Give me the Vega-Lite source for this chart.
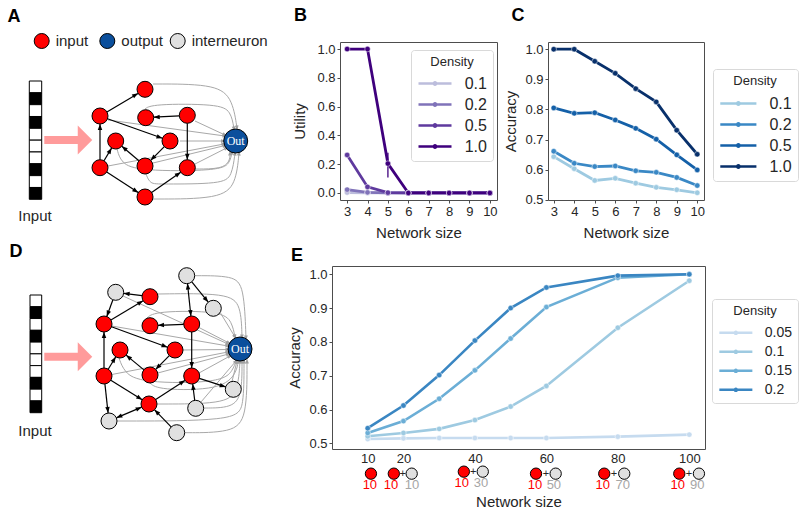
{
"$schema": "https://vega.github.io/schema/vega-lite/v6.json",
"padding": {"left": 0, "top": 6, "right": 0, "bottom": 0},
"background": "white",
"config": {
 "font": "Liberation Sans",
 "view": {"stroke": null},
 "axis": {"labelFontSize": 13, "labelColor": "#262626", "titleFontSize": 15, "titleFontWeight": "normal", "titleColor": "#262626", "domain": false, "tickColor": "#4d4d4d", "tickSize": 3, "grid": false, "labelPadding": 2, "labelOverlap": false, "labelFlush": false, "labelBound": false}
},
"datasets": {
 "a_bar": [
  {"x0":29.3,"x1":41.7,"y0":80,"y1":91.83,"cell":"0"},
  {"x0":29.3,"x1":41.7,"y0":91.83,"y1":103.66,"cell":"1"},
  {"x0":29.3,"x1":41.7,"y0":103.66,"y1":115.49,"cell":"0"},
  {"x0":29.3,"x1":41.7,"y0":115.49,"y1":127.32,"cell":"1"},
  {"x0":29.3,"x1":41.7,"y0":127.32,"y1":139.15,"cell":"0"},
  {"x0":29.3,"x1":41.7,"y0":139.15,"y1":150.98,"cell":"0"},
  {"x0":29.3,"x1":41.7,"y0":150.98,"y1":162.81,"cell":"0"},
  {"x0":29.3,"x1":41.7,"y0":162.81,"y1":174.64,"cell":"1"},
  {"x0":29.3,"x1":41.7,"y0":174.64,"y1":186.47,"cell":"0"},
  {"x0":29.3,"x1":41.7,"y0":186.47,"y1":198.3,"cell":"1"}
 ],
 "a_nodes": [
  {"x":145,"y":88.3,"type":"input"},{"x":100,"y":115,"type":"input"},{"x":145.7,"y":116.7,"type":"input"},
  {"x":187.3,"y":114.3,"type":"input"},{"x":115.7,"y":140,"type":"input"},{"x":170,"y":140,"type":"input"},
  {"x":100,"y":166.7,"type":"input"},{"x":145,"y":165,"type":"input"},{"x":187.3,"y":166.7,"type":"input"},
  {"x":145,"y":196,"type":"input"}
 ],
 "a_out": [{"x":235.7,"y":140,"type":"output","label":"Out"}],
 "a_black": [
  {"x":106.9,"y":110.9,"x2":138.1,"y2":92.4},
  {"x":100,"y":158.7,"x2":100,"y2":123},
  {"x":104.0,"y":159.8,"x2":111.7,"y2":146.9},
  {"x":106.7,"y":171.1,"x2":138.3,"y2":191.6},
  {"x":151.6,"y":191.4,"x2":180.7,"y2":171.3},
  {"x":179.3,"y":114.8,"x2":153.7,"y2":116.2},
  {"x":187.3,"y":122.3,"x2":187.3,"y2":158.7},
  {"x":107.5,"y":117.7,"x2":162.5,"y2":137.3},
  {"x":164.3,"y":145.7,"x2":150.7,"y2":159.3},
  {"x":138.9,"y":159.8,"x2":121.8,"y2":145.2}
 ],
 "a_heads": [
  {"x":135.5,"y":93.9,"angle":59.3},{"x":100,"y":126,"angle":0},{"x":110.1,"y":149.5,"angle":30.4},
  {"x":135.8,"y":190.0,"angle":123.1},{"x":178.3,"y":173.0,"angle":55.3},{"x":156.7,"y":116.1,"angle":-93.3},
  {"x":187.3,"y":155.7,"angle":180},{"x":159.6,"y":136.3,"angle":109.6},{"x":152.8,"y":157.2,"angle":-135},
  {"x":124.1,"y":147.1,"angle":-49.5}
 ],
 "a_gray": [
  {"e":1,"i":0,"x":153,"y":83},{"e":1,"i":1,"x":212,"y":83},{"e":1,"i":2,"x":232,"y":95},{"e":1,"i":3,"x":237,"y":127},
  {"e":2,"i":0,"x":145,"y":108},{"e":2,"i":1,"x":152,"y":103},{"e":2,"i":2,"x":218,"y":103},{"e":2,"i":3,"x":231,"y":110},{"e":2,"i":4,"x":234,"y":128},
  {"e":3,"i":0,"x":108,"y":119},{"e":3,"i":1,"x":225,"y":135},
  {"e":4,"i":0,"x":195,"y":120},{"e":4,"i":1,"x":225,"y":134},
  {"e":5,"i":0,"x":180,"y":140},{"e":5,"i":1,"x":223.5,"y":140},
  {"e":6,"i":0,"x":108,"y":165},{"e":6,"i":1,"x":224,"y":143},
  {"e":7,"i":0,"x":153,"y":162},{"e":7,"i":1,"x":225,"y":144.5},
  {"e":8,"i":0,"x":195,"y":163},{"e":8,"i":1,"x":226.5,"y":147},
  {"e":9,"i":0,"x":117,"y":148},{"e":9,"i":1,"x":121,"y":162},{"e":9,"i":2,"x":138,"y":170},{"e":9,"i":3,"x":220,"y":170},{"e":9,"i":4,"x":230,"y":162},{"e":9,"i":5,"x":232,"y":151},
  {"e":10,"i":0,"x":146,"y":173},{"e":10,"i":1,"x":150,"y":183},{"e":10,"i":2,"x":160,"y":183},{"e":10,"i":3,"x":222,"y":183},{"e":10,"i":4,"x":232,"y":175},{"e":10,"i":5,"x":235,"y":152},
  {"e":11,"i":0,"x":195,"y":168},{"e":11,"i":1,"x":222,"y":168},{"e":11,"i":2,"x":230,"y":160},{"e":11,"i":3,"x":230,"y":152},
  {"e":12,"i":0,"x":153,"y":198},{"e":12,"i":1,"x":220,"y":198},{"e":12,"i":2,"x":236,"y":183},{"e":12,"i":3,"x":239,"y":152}
 ],
 "a_gheads": [
  {"x":237,"y":127,"angle":171},{"x":234,"y":128,"angle":170},{"x":225,"y":135,"angle":98},{"x":225,"y":134,"angle":115},
  {"x":223.5,"y":140,"angle":90},{"x":224,"y":143,"angle":79},{"x":225,"y":144.5,"angle":76},{"x":226.5,"y":147,"angle":63},
  {"x":232,"y":151,"angle":10},{"x":235,"y":152,"angle":7},{"x":230,"y":152,"angle":0},{"x":239,"y":152,"angle":5}
 ],
 "a_key": [
  {"x":41.7,"y":40,"type":"input","label":"input"},
  {"x":107.3,"y":40,"type":"output","label":"output"},
  {"x":177.7,"y":40,"type":"interneuron","label":"interneuron"}
 ],
 "d_bar": [
  {"x0":30,"x1":41.7,"y0":295,"y1":306.77,"cell":"0"},
  {"x0":30,"x1":41.7,"y0":306.77,"y1":318.54,"cell":"1"},
  {"x0":30,"x1":41.7,"y0":318.54,"y1":330.31,"cell":"0"},
  {"x0":30,"x1":41.7,"y0":330.31,"y1":342.08,"cell":"1"},
  {"x0":30,"x1":41.7,"y0":342.08,"y1":353.85,"cell":"0"},
  {"x0":30,"x1":41.7,"y0":353.85,"y1":365.62,"cell":"0"},
  {"x0":30,"x1":41.7,"y0":365.62,"y1":377.39,"cell":"0"},
  {"x0":30,"x1":41.7,"y0":377.39,"y1":389.16,"cell":"1"},
  {"x0":30,"x1":41.7,"y0":389.16,"y1":400.93,"cell":"0"},
  {"x0":30,"x1":41.7,"y0":400.93,"y1":412.7,"cell":"1"}
 ],
 "d_nodes": [
  {"x":150,"y":296.7,"type":"input"},{"x":104,"y":324,"type":"input"},{"x":150,"y":325.7,"type":"input"},
  {"x":191.7,"y":324,"type":"input"},{"x":120,"y":350,"type":"input"},{"x":175,"y":350,"type":"input"},
  {"x":104,"y":376,"type":"input"},{"x":150,"y":375,"type":"input"},{"x":191.7,"y":376,"type":"input"},
  {"x":149,"y":404,"type":"input"},
  {"x":186.7,"y":275.7,"type":"interneuron"},{"x":115.7,"y":292.3,"type":"interneuron"},{"x":213.3,"y":308.3,"type":"interneuron"},
  {"x":233.3,"y":389.3,"type":"interneuron"},{"x":195.7,"y":408.3,"type":"interneuron"},{"x":109,"y":421,"type":"interneuron"},
  {"x":176.7,"y":432.7,"type":"interneuron"}
 ],
 "d_out": [{"x":240,"y":349,"type":"output","label":"Out"}],
 "d_black": [
  {"x":142.1,"y":295.7,"x2":123.6,"y2":293.3},
  {"x":112.9,"y":299.8,"x2":106.8,"y2":316.5},
  {"x":110.9,"y":319.9,"x2":143.1,"y2":300.8},
  {"x":187.5,"y":283.6,"x2":190.9,"y2":316.0},
  {"x":191.8,"y":281.9,"x2":208.2,"y2":302.1},
  {"x":183.7,"y":324.3,"x2":158.0,"y2":325.4},
  {"x":191.7,"y":332,"x2":191.7,"y2":368},
  {"x":111.5,"y":326.8,"x2":167.5,"y2":347.2},
  {"x":104,"y":368,"x2":104,"y2":332},
  {"x":108.2,"y":369.2,"x2":115.8,"y2":356.8},
  {"x":169.3,"y":355.7,"x2":155.7,"y2":369.3},
  {"x":143.9,"y":369.9,"x2":126.1,"y2":355.1},
  {"x":104.9,"y":383.9,"x2":108.1,"y2":413.1},
  {"x":110.8,"y":380.2,"x2":142.2,"y2":399.8},
  {"x":116.4,"y":417.9,"x2":141.6,"y2":407.1},
  {"x":155.7,"y":399.6,"x2":185.0,"y2":380.4},
  {"x":171.1,"y":426.9,"x2":154.6,"y2":409.8},
  {"x":194.7,"y":400.3,"x2":192.7,"y2":384.0},
  {"x":199.3,"y":378.4,"x2":225.7,"y2":386.9}
 ],
 "d_heads": [
  {"x":126.6,"y":293.7,"angle":-82.7},{"x":107.8,"y":313.7,"angle":-159.8},{"x":140.5,"y":302.3,"angle":59.3},
  {"x":190.6,"y":313.1,"angle":174.1},{"x":187.8,"y":286.6,"angle":-5.9},{"x":206.3,"y":299.8,"angle":140.8},
  {"x":161.0,"y":325.2,"angle":-92.4},{"x":191.7,"y":365,"angle":180},{"x":164.7,"y":346.2,"angle":110.1},
  {"x":104,"y":335,"angle":0},{"x":114.2,"y":359.4,"angle":31.6},{"x":157.8,"y":367.2,"angle":-135},
  {"x":128.4,"y":357.0,"angle":-50.2},{"x":107.8,"y":410.1,"angle":173.7},{"x":139.7,"y":398.2,"angle":121.9},
  {"x":138.9,"y":408.3,"angle":67.0},{"x":119.1,"y":416.7,"angle":-113.0},{"x":182.5,"y":382.0,"angle":56.8},
  {"x":156.6,"y":411.9,"angle":-44.0},{"x":193.1,"y":386.9,"angle":-7.1},{"x":222.8,"y":386.0,"angle":107.7}
 ],
 "d_gray": [
  {"e":1,"i":0,"x":195,"y":275.7},{"e":1,"i":1,"x":233,"y":275.7},{"e":1,"i":2,"x":244,"y":286},{"e":1,"i":3,"x":246,"y":338},
  {"e":2,"i":0,"x":158,"y":294},{"e":2,"i":1,"x":228,"y":293},{"e":2,"i":2,"x":241,"y":305},{"e":2,"i":3,"x":242,"y":337},
  {"e":3,"i":0,"x":220.5,"y":313},{"e":3,"i":1,"x":235,"y":337},
  {"e":4,"i":0,"x":147,"y":318},{"e":4,"i":1,"x":155,"y":311},{"e":4,"i":2,"x":222,"y":311},{"e":4,"i":3,"x":232,"y":322},{"e":4,"i":4,"x":235,"y":337},
  {"e":5,"i":0,"x":199,"y":327.5},{"e":5,"i":1,"x":229,"y":343},
  {"e":6,"i":0,"x":111.8,"y":326},{"e":6,"i":1,"x":228,"y":346},
  {"e":7,"i":0,"x":123,"y":296},{"e":7,"i":1,"x":228,"y":344},
  {"e":8,"i":0,"x":183,"y":350},{"e":8,"i":1,"x":228,"y":349.5},
  {"e":9,"i":0,"x":111.8,"y":374.5},{"e":9,"i":1,"x":228,"y":352},
  {"e":10,"i":0,"x":157.8,"y":373},{"e":10,"i":1,"x":228.5,"y":354},
  {"e":11,"i":0,"x":199,"y":373},{"e":11,"i":1,"x":230,"y":356},
  {"e":12,"i":0,"x":119,"y":358},{"e":12,"i":1,"x":124,"y":372},{"e":12,"i":2,"x":140,"y":383},{"e":12,"i":3,"x":222,"y":383},{"e":12,"i":4,"x":233,"y":370},{"e":12,"i":5,"x":236,"y":361},
  {"e":13,"i":0,"x":150,"y":383},{"e":13,"i":1,"x":158,"y":390},{"e":13,"i":2,"x":222,"y":390},{"e":13,"i":3,"x":237,"y":372},{"e":13,"i":4,"x":238,"y":361},
  {"e":14,"i":0,"x":232,"y":381.5},{"e":14,"i":1,"x":237,"y":361},
  {"e":15,"i":0,"x":201,"y":402},{"e":15,"i":1,"x":236,"y":361},
  {"e":16,"i":0,"x":203.5,"y":408},{"e":16,"i":1,"x":232,"y":408},{"e":16,"i":2,"x":242,"y":395},{"e":16,"i":3,"x":242,"y":361},
  {"e":17,"i":0,"x":157,"y":404},{"e":17,"i":1,"x":224,"y":404},{"e":17,"i":2,"x":238,"y":392},{"e":17,"i":3,"x":240,"y":361},
  {"e":18,"i":0,"x":117,"y":421},{"e":18,"i":1,"x":235,"y":421},{"e":18,"i":2,"x":244,"y":407},{"e":18,"i":3,"x":244,"y":361},
  {"e":19,"i":0,"x":184.5,"y":432.7},{"e":19,"i":1,"x":232,"y":432.7},{"e":19,"i":2,"x":247,"y":418},{"e":19,"i":3,"x":247,"y":361}
 ],
 "d_gheads": [
  {"x":246,"y":338,"angle":178},{"x":242,"y":337,"angle":178},{"x":235,"y":337,"angle":149},{"x":235,"y":337,"angle":169},
  {"x":229,"y":343,"angle":117},{"x":228,"y":346,"angle":100},{"x":228,"y":344,"angle":115},{"x":228,"y":349.5,"angle":90},
  {"x":228,"y":352,"angle":79},{"x":228.5,"y":354,"angle":75},{"x":230,"y":356,"angle":61},{"x":236,"y":361,"angle":18},
  {"x":238,"y":361,"angle":5},{"x":237,"y":361,"angle":14},{"x":236,"y":361,"angle":40},{"x":242,"y":361,"angle":0},
  {"x":240,"y":361,"angle":4},{"x":244,"y":361,"angle":0},{"x":247,"y":361,"angle":0}
 ],
 "utility": [
  {"size":3,"density":"0.1","utility":0.003},{"size":4,"density":"0.1","utility":0.0},{"size":5,"density":"0.1","utility":0.0},{"size":6,"density":"0.1","utility":0.0},{"size":7,"density":"0.1","utility":0.0},{"size":8,"density":"0.1","utility":0.0},{"size":9,"density":"0.1","utility":0.0},{"size":10,"density":"0.1","utility":0.0},
  {"size":3,"density":"0.2","utility":0.023},{"size":4,"density":"0.2","utility":0.004},{"size":5,"density":"0.2","utility":0.0},{"size":6,"density":"0.2","utility":0.0},{"size":7,"density":"0.2","utility":0.0},{"size":8,"density":"0.2","utility":0.0},{"size":9,"density":"0.2","utility":0.0},{"size":10,"density":"0.2","utility":0.0},
  {"size":3,"density":"0.5","utility":0.264},{"size":4,"density":"0.5","utility":0.042},{"size":5,"density":"0.5","utility":0.002},{"size":6,"density":"0.5","utility":0.0},{"size":7,"density":"0.5","utility":0.0},{"size":8,"density":"0.5","utility":0.0},{"size":9,"density":"0.5","utility":0.0},{"size":10,"density":"0.5","utility":0.0},
  {"size":3,"density":"1.0","utility":1.0},{"size":4,"density":"1.0","utility":1.0},{"size":5,"density":"1.0","utility":0.204},{"size":6,"density":"1.0","utility":0.0},{"size":7,"density":"1.0","utility":0.0},{"size":8,"density":"1.0","utility":0.0},{"size":9,"density":"1.0","utility":0.0},{"size":10,"density":"1.0","utility":0.0}
 ],
 "accuracy_small": [
  {"size":3,"density":"0.1","accuracy":0.643},{"size":4,"density":"0.1","accuracy":0.603},{"size":5,"density":"0.1","accuracy":0.564},{"size":6,"density":"0.1","accuracy":0.571},{"size":7,"density":"0.1","accuracy":0.555},{"size":8,"density":"0.1","accuracy":0.541},{"size":9,"density":"0.1","accuracy":0.533},{"size":10,"density":"0.1","accuracy":0.523},
  {"size":3,"density":"0.2","accuracy":0.661},{"size":4,"density":"0.2","accuracy":0.621},{"size":5,"density":"0.2","accuracy":0.610},{"size":6,"density":"0.2","accuracy":0.612},{"size":7,"density":"0.2","accuracy":0.596},{"size":8,"density":"0.2","accuracy":0.591},{"size":9,"density":"0.2","accuracy":0.574},{"size":10,"density":"0.2","accuracy":0.547},
  {"size":3,"density":"0.5","accuracy":0.805},{"size":4,"density":"0.5","accuracy":0.787},{"size":5,"density":"0.5","accuracy":0.789},{"size":6,"density":"0.5","accuracy":0.765},{"size":7,"density":"0.5","accuracy":0.737},{"size":8,"density":"0.5","accuracy":0.701},{"size":9,"density":"0.5","accuracy":0.649},{"size":10,"density":"0.5","accuracy":0.599},
  {"size":3,"density":"1.0","accuracy":1.0},{"size":4,"density":"1.0","accuracy":1.0},{"size":5,"density":"1.0","accuracy":0.960},{"size":6,"density":"1.0","accuracy":0.920},{"size":7,"density":"1.0","accuracy":0.869},{"size":8,"density":"1.0","accuracy":0.825},{"size":9,"density":"1.0","accuracy":0.731},{"size":10,"density":"1.0","accuracy":0.651}
 ],
 "accuracy_large": [
  {"size":10,"density":"0.05","accuracy":0.513},{"size":20,"density":"0.05","accuracy":0.515},{"size":30,"density":"0.05","accuracy":0.516},{"size":40,"density":"0.05","accuracy":0.516},{"size":50,"density":"0.05","accuracy":0.516},{"size":60,"density":"0.05","accuracy":0.516},{"size":80,"density":"0.05","accuracy":0.520},{"size":100,"density":"0.05","accuracy":0.526},
  {"size":10,"density":"0.1","accuracy":0.521},{"size":20,"density":"0.1","accuracy":0.531},{"size":30,"density":"0.1","accuracy":0.543},{"size":40,"density":"0.1","accuracy":0.569},{"size":50,"density":"0.1","accuracy":0.609},{"size":60,"density":"0.1","accuracy":0.670},{"size":80,"density":"0.1","accuracy":0.842},{"size":100,"density":"0.1","accuracy":0.981},
  {"size":10,"density":"0.15","accuracy":0.531},{"size":20,"density":"0.15","accuracy":0.566},{"size":30,"density":"0.15","accuracy":0.632},{"size":40,"density":"0.15","accuracy":0.716},{"size":50,"density":"0.15","accuracy":0.810},{"size":60,"density":"0.15","accuracy":0.903},{"size":80,"density":"0.15","accuracy":0.990},{"size":100,"density":"0.15","accuracy":1.0},
  {"size":10,"density":"0.2","accuracy":0.545},{"size":20,"density":"0.2","accuracy":0.612},{"size":30,"density":"0.2","accuracy":0.702},{"size":40,"density":"0.2","accuracy":0.804},{"size":50,"density":"0.2","accuracy":0.900},{"size":60,"density":"0.2","accuracy":0.961},{"size":80,"density":"0.2","accuracy":0.996},{"size":100,"density":"0.2","accuracy":1.0}
 ],
 "e_icons": [
  {"size":10.9,"accuracy":0.4106,"kind":"input"},
  {"size":17.3,"accuracy":0.4106,"kind":"input"},{"size":22.3,"accuracy":0.4106,"kind":"inter"},
  {"size":36.9,"accuracy":0.4165,"kind":"input"},{"size":42.2,"accuracy":0.4165,"kind":"inter"},
  {"size":57.1,"accuracy":0.4106,"kind":"input"},{"size":62.6,"accuracy":0.4106,"kind":"inter"},
  {"size":76.2,"accuracy":0.4106,"kind":"input"},{"size":81.8,"accuracy":0.4106,"kind":"inter"},
  {"size":97.2,"accuracy":0.4106,"kind":"input"},{"size":102.7,"accuracy":0.4106,"kind":"inter"}
 ],
 "e_plus": [
  {"size":19.8,"accuracy":0.4106,"t":"+"},{"size":39.5,"accuracy":0.4165,"t":"+"},{"size":59.9,"accuracy":0.4106,"t":"+"},
  {"size":78.9,"accuracy":0.4106,"t":"+"},{"size":99.9,"accuracy":0.4106,"t":"+"}
 ],
 "e_counts": [
  {"size":10.6,"accuracy":0.3772,"t":"10","kind":"n_input"},
  {"size":16.5,"accuracy":0.3772,"t":"10","kind":"n_input"},{"size":22.4,"accuracy":0.3772,"t":"10","kind":"n_inter"},
  {"size":36.3,"accuracy":0.3831,"t":"10","kind":"n_input"},{"size":41.7,"accuracy":0.3831,"t":"30","kind":"n_inter"},
  {"size":56.8,"accuracy":0.3772,"t":"10","kind":"n_input"},{"size":62.1,"accuracy":0.3772,"t":"50","kind":"n_inter"},
  {"size":75.8,"accuracy":0.3772,"t":"10","kind":"n_input"},{"size":81.4,"accuracy":0.3772,"t":"70","kind":"n_inter"},
  {"size":96.8,"accuracy":0.3772,"t":"10","kind":"n_input"},{"size":102.2,"accuracy":0.3772,"t":"90","kind":"n_inter"}
 ]
},
"spacing": 1,
"bounds": "full",
"resolve": {"scale": {"color": "independent", "fill": "independent"}},
"vconcat": [
 {
  "spacing": 51,
  "bounds": "flush",
  "resolve": {"scale": {"color": "independent", "fill": "independent"}},
  "hconcat": [
   {
    "width": 289, "height": 158,
    "layer": [
     {"data": {"name": "a_bar"}, "mark": {"type": "rect", "stroke": "black", "strokeWidth": 1},
      "encoding": {
       "x": {"field": "x0", "type": "quantitative", "scale": {"domain": [0, 289], "nice": false, "zero": false}, "axis": null},
       "x2": {"field": "x1"},
       "y": {"field": "y0", "type": "quantitative", "scale": {"domain": [41, 199], "nice": false, "zero": false, "reverse": true}, "axis": null},
       "y2": {"field": "y1"},
       "fill": {"field": "cell", "type": "nominal", "scale": {"domain": ["input", "output", "interneuron", "1", "0"], "range": ["#ff0000", "#0b4f9c", "#e0e0e0", "#000000", "#ffffff"]}, "legend": null}
      }},
     {"data": {"values": [{"x0": 44.3, "x1": 79.5, "y0": 135, "y1": 143}]}, "mark": {"type": "rect", "color": "#ff9b9b"},
      "encoding": {"x": {"field": "x0", "type": "quantitative", "axis": null}, "x2": {"field": "x1"}, "y": {"field": "y0", "type": "quantitative", "axis": null}, "y2": {"field": "y1"}}},
     {"data": {"values": [{"x": 85, "y": 139}]}, "mark": {"type": "point", "shape": "M-0.5,-1L0.5,0L-0.5,1Z", "size": 841, "filled": true, "color": "#ff9b9b", "opacity": 1},
      "encoding": {"x": {"field": "x", "type": "quantitative", "axis": null}, "y": {"field": "y", "type": "quantitative", "axis": null}}},
     {"data": {"name": "a_gray"}, "mark": {"type": "line", "color": "#a8a8a8", "strokeWidth": 1, "interpolate": "basis"},
      "encoding": {"x": {"field": "x", "type": "quantitative", "axis": null}, "y": {"field": "y", "type": "quantitative", "axis": null}, "detail": {"field": "e", "type": "nominal"}, "order": {"field": "i", "type": "quantitative"}}},
     {"data": {"name": "a_gheads"}, "mark": {"type": "point", "shape": "M0,-1L0.75,1L-0.75,1Z", "size": 25, "filled": true, "color": "#a0a0a0", "opacity": 1},
      "encoding": {"x": {"field": "x", "type": "quantitative", "axis": null}, "y": {"field": "y", "type": "quantitative", "axis": null}, "angle": {"field": "angle", "type": "quantitative", "scale": null}}},
     {"data": {"name": "a_black"}, "mark": {"type": "rule", "color": "black", "strokeWidth": 1.2},
      "encoding": {"x": {"field": "x", "type": "quantitative", "axis": null}, "y": {"field": "y", "type": "quantitative", "axis": null}, "x2": {"field": "x2"}, "y2": {"field": "y2"}}},
     {"data": {"name": "a_heads"}, "mark": {"type": "point", "shape": "M0,-1L0.75,1L-0.75,1Z", "size": 36, "filled": true, "color": "black", "opacity": 1},
      "encoding": {"x": {"field": "x", "type": "quantitative", "axis": null}, "y": {"field": "y", "type": "quantitative", "axis": null}, "angle": {"field": "angle", "type": "quantitative", "scale": null}}},
     {"data": {"name": "a_nodes"}, "mark": {"type": "point", "shape": "circle", "filled": true, "size": 256, "stroke": "black", "strokeWidth": 1, "opacity": 1},
      "encoding": {"x": {"field": "x", "type": "quantitative", "axis": null}, "y": {"field": "y", "type": "quantitative", "axis": null}, "fill": {"field": "type", "type": "nominal", "legend": null}}},
     {"data": {"name": "a_out"}, "mark": {"type": "point", "shape": "circle", "filled": true, "size": 576, "stroke": "black", "strokeWidth": 1, "opacity": 1},
      "encoding": {"x": {"field": "x", "type": "quantitative", "axis": null}, "y": {"field": "y", "type": "quantitative", "axis": null}, "fill": {"field": "type", "type": "nominal", "legend": null}}},
     {"data": {"name": "a_out"}, "mark": {"type": "text", "font": "Liberation Serif", "fontSize": 12, "color": "white", "baseline": "middle", "align": "center"},
      "encoding": {"x": {"field": "x", "type": "quantitative", "axis": null}, "y": {"field": "y", "type": "quantitative", "axis": null}, "text": {"field": "label"}}},
     {"data": {"name": "a_key"}, "mark": {"type": "point", "shape": "circle", "filled": true, "size": 225, "stroke": "black", "strokeWidth": 1, "opacity": 1},
      "encoding": {"x": {"field": "x", "type": "quantitative", "axis": null}, "y": {"field": "y", "type": "quantitative", "axis": null}, "fill": {"field": "type", "type": "nominal", "legend": null}}},
     {"data": {"name": "a_key"}, "mark": {"type": "text", "fontSize": 15, "color": "#262626", "baseline": "middle", "align": "left", "dx": 14},
      "encoding": {"x": {"field": "x", "type": "quantitative", "axis": null}, "y": {"field": "y", "type": "quantitative", "axis": null}, "text": {"field": "label"}}},
     {"data": {"values": [{"x": 35, "y": 215, "t": "Input"}]}, "mark": {"type": "text", "fontSize": 15, "color": "#262626", "baseline": "middle", "align": "center"},
      "encoding": {"x": {"field": "x", "type": "quantitative", "axis": null}, "y": {"field": "y", "type": "quantitative", "axis": null}, "text": {"field": "t"}}},
     {"data": {"values": [{"x": 14, "y": 15.5, "t": "A"}]}, "mark": {"type": "text", "fontSize": 18, "fontWeight": "bold", "color": "black", "baseline": "middle", "align": "center"},
      "encoding": {"x": {"field": "x", "type": "quantitative", "axis": null}, "y": {"field": "y", "type": "quantitative", "axis": null}, "text": {"field": "t"}}}
    ]
   },
   {
    "width": 157, "height": 158,
    "view": {"stroke": "#4d4d4d"},
    "layer": [
     {"data": {"name": "utility"}, "mark": {"type": "line", "strokeWidth": 2.8},
      "encoding": {
       "x": {"field": "size", "type": "quantitative", "scale": {"domain": [2.65, 10.35], "nice": false, "zero": false}, "axis": {"values": [3,4,5,6,7,8,9,10], "tickCount": 50, "format": "d", "title": "Network size", "titlePadding": 7, "labelOverlap": false}},
       "y": {"field": "utility", "type": "quantitative", "scale": {"domain": [-0.049, 1.049], "nice": false, "zero": false}, "axis": {"values": [0,0.2,0.4,0.6,0.8,1], "tickCount": 50, "format": ".1f", "title": "Utility", "titlePadding": 9, "labelOverlap": false}},
       "color": {"field": "density", "type": "nominal", "scale": {"domain": ["0.1","0.2","0.5","1.0"], "range": ["#bcbddc","#8073b9","#5f3a9e","#3f007d"]},
        "legend": {"title": "Density", "orient": "none", "legendX": 71, "legendY": 8, "titleAnchor": "middle", "titleFontSize": 13, "titleFontWeight": "normal", "titleColor": "#262626", "titlePadding": 2, "labelFontSize": 16, "labelColor": "#262626", "symbolType": "M-1.5,0H1.5M0.1,0A0.1,0.1 0 1,1 -0.1,0A0.1,0.1 0 1,1 0.1,0", "symbolSize": 484, "symbolStrokeWidth": 2.6, "symbolFillColor": "transparent", "symbolOpacity": 1, "symbolOffset": 5.5, "labelOffset": 17.2, "rowPadding": 0, "padding": 6, "fillColor": "white", "strokeColor": "#d9d9d9", "cornerRadius": 3}}
      }},
     {"data": {"values": [{"size": 5, "lo": 0.107, "hi": 0.28, "density": "1.0"}]}, "mark": {"type": "rule", "strokeWidth": 1.3},
      "encoding": {"x": {"field": "size", "type": "quantitative"}, "y": {"field": "lo", "type": "quantitative"}, "y2": {"field": "hi"}, "color": {"field": "density", "type": "nominal", "legend": null}}},
     {"data": {"name": "utility"}, "mark": {"type": "point", "filled": true, "size": 30, "opacity": 1, "stroke": "white", "strokeWidth": 0.5},
      "encoding": {"x": {"field": "size", "type": "quantitative"}, "y": {"field": "utility", "type": "quantitative"}, "color": {"field": "density", "type": "nominal", "legend": null}}},
     {"data": {"values": [{"size": 0.707, "utility": 1.229, "t": "B"}]}, "mark": {"type": "text", "fontSize": 18, "fontWeight": "bold", "color": "black", "baseline": "middle", "align": "center"},
      "encoding": {"x": {"field": "size", "type": "quantitative"}, "y": {"field": "utility", "type": "quantitative"}, "text": {"field": "t"}}}
    ]
   },
   {
    "width": 156, "height": 158,
    "view": {"stroke": "#4d4d4d"},
    "layer": [
     {"data": {"name": "accuracy_small"}, "mark": {"type": "line", "strokeWidth": 2.8},
      "encoding": {
       "x": {"field": "size", "type": "quantitative", "scale": {"domain": [2.72, 10.33], "nice": false, "zero": false}, "axis": {"values": [3,4,5,6,7,8,9,10], "tickCount": 50, "format": "d", "title": "Network size", "titlePadding": 7, "labelOverlap": false}},
       "y": {"field": "accuracy", "type": "quantitative", "scale": {"domain": [0.499, 1.024], "nice": false, "zero": false}, "axis": {"values": [0.5,0.6,0.7,0.8,0.9,1], "tickCount": 50, "format": ".1f", "title": "Accuracy", "titlePadding": 6, "labelOverlap": false}},
       "color": {"field": "density", "type": "nominal", "scale": {"domain": ["0.1","0.2","0.5","1.0"], "range": ["#9ecae1","#3a88c5","#1460a8","#08306b"]},
        "legend": {"title": "Density", "orient": "none", "legendX": 165, "legendY": 27, "titleAnchor": "middle", "titleFontSize": 13, "titleFontWeight": "normal", "titleColor": "#262626", "titlePadding": 2.5, "labelFontSize": 16, "labelColor": "#262626", "symbolType": "M-1.55,0H1.55M0.1,0A0.1,0.1 0 1,1 -0.1,0A0.1,0.1 0 1,1 0.1,0", "symbolSize": 543, "symbolStrokeWidth": 2.6, "symbolFillColor": "transparent", "symbolOpacity": 1, "symbolOffset": 6.35, "labelOffset": 18.05, "rowPadding": 0, "padding": 6, "fillColor": "white", "strokeColor": "#d9d9d9", "cornerRadius": 3}}
      }},
     {"data": {"name": "accuracy_small"}, "mark": {"type": "point", "filled": true, "size": 30, "opacity": 1, "stroke": "white", "strokeWidth": 0.5},
      "encoding": {"x": {"field": "size", "type": "quantitative"}, "y": {"field": "accuracy", "type": "quantitative"}, "color": {"field": "density", "type": "nominal", "legend": null}}},
     {"data": {"values": [{"size": 1.26, "accuracy": 1.111, "t": "C"}]}, "mark": {"type": "text", "fontSize": 18, "fontWeight": "bold", "color": "black", "baseline": "middle", "align": "center"},
      "encoding": {"x": {"field": "size", "type": "quantitative"}, "y": {"field": "accuracy", "type": "quantitative"}, "text": {"field": "t"}}}
    ]
   }
  ]
 },
 {
  "spacing": 52,
  "bounds": "flush",
  "resolve": {"scale": {"color": "independent", "fill": "independent"}},
  "hconcat": [
   {
    "width": 280, "height": 183,
    "layer": [
     {"data": {"name": "d_bar"}, "mark": {"type": "rect", "stroke": "black", "strokeWidth": 1},
      "encoding": {
       "x": {"field": "x0", "type": "quantitative", "scale": {"domain": [0, 280], "nice": false, "zero": false}, "axis": null},
       "x2": {"field": "x1"},
       "y": {"field": "y0", "type": "quantitative", "scale": {"domain": [266, 449], "nice": false, "zero": false, "reverse": true}, "axis": null},
       "y2": {"field": "y1"},
       "fill": {"field": "cell", "type": "nominal", "scale": {"domain": ["input", "output", "interneuron", "1", "0"], "range": ["#ff0000", "#0b4f9c", "#e0e0e0", "#000000", "#ffffff"]}, "legend": null}
      }},
     {"data": {"values": [{"x0": 44.3, "x1": 79.5, "y0": 352.7, "y1": 360.7}]}, "mark": {"type": "rect", "color": "#ff9b9b"},
      "encoding": {"x": {"field": "x0", "type": "quantitative", "axis": null}, "x2": {"field": "x1"}, "y": {"field": "y0", "type": "quantitative", "axis": null}, "y2": {"field": "y1"}}},
     {"data": {"values": [{"x": 85, "y": 356.7}]}, "mark": {"type": "point", "shape": "M-0.5,-1L0.5,0L-0.5,1Z", "size": 841, "filled": true, "color": "#ff9b9b", "opacity": 1},
      "encoding": {"x": {"field": "x", "type": "quantitative", "axis": null}, "y": {"field": "y", "type": "quantitative", "axis": null}}},
     {"data": {"name": "d_gray"}, "mark": {"type": "line", "color": "#a8a8a8", "strokeWidth": 1, "interpolate": "basis"},
      "encoding": {"x": {"field": "x", "type": "quantitative", "axis": null}, "y": {"field": "y", "type": "quantitative", "axis": null}, "detail": {"field": "e", "type": "nominal"}, "order": {"field": "i", "type": "quantitative"}}},
     {"data": {"name": "d_gheads"}, "mark": {"type": "point", "shape": "M0,-1L0.75,1L-0.75,1Z", "size": 25, "filled": true, "color": "#a0a0a0", "opacity": 1},
      "encoding": {"x": {"field": "x", "type": "quantitative", "axis": null}, "y": {"field": "y", "type": "quantitative", "axis": null}, "angle": {"field": "angle", "type": "quantitative", "scale": null}}},
     {"data": {"name": "d_black"}, "mark": {"type": "rule", "color": "black", "strokeWidth": 1.2},
      "encoding": {"x": {"field": "x", "type": "quantitative", "axis": null}, "y": {"field": "y", "type": "quantitative", "axis": null}, "x2": {"field": "x2"}, "y2": {"field": "y2"}}},
     {"data": {"name": "d_heads"}, "mark": {"type": "point", "shape": "M0,-1L0.75,1L-0.75,1Z", "size": 36, "filled": true, "color": "black", "opacity": 1},
      "encoding": {"x": {"field": "x", "type": "quantitative", "axis": null}, "y": {"field": "y", "type": "quantitative", "axis": null}, "angle": {"field": "angle", "type": "quantitative", "scale": null}}},
     {"data": {"name": "d_nodes"}, "mark": {"type": "point", "shape": "circle", "filled": true, "size": 256, "stroke": "black", "strokeWidth": 1, "opacity": 1},
      "encoding": {"x": {"field": "x", "type": "quantitative", "axis": null}, "y": {"field": "y", "type": "quantitative", "axis": null}, "fill": {"field": "type", "type": "nominal", "legend": null}}},
     {"data": {"name": "d_out"}, "mark": {"type": "point", "shape": "circle", "filled": true, "size": 576, "stroke": "black", "strokeWidth": 1, "opacity": 1},
      "encoding": {"x": {"field": "x", "type": "quantitative", "axis": null}, "y": {"field": "y", "type": "quantitative", "axis": null}, "fill": {"field": "type", "type": "nominal", "legend": null}}},
     {"data": {"name": "d_out"}, "mark": {"type": "text", "font": "Liberation Serif", "fontSize": 12, "color": "white", "baseline": "middle", "align": "center"},
      "encoding": {"x": {"field": "x", "type": "quantitative", "axis": null}, "y": {"field": "y", "type": "quantitative", "axis": null}, "text": {"field": "label"}}},
     {"data": {"values": [{"x": 35, "y": 430.7, "t": "Input"}]}, "mark": {"type": "text", "fontSize": 15, "color": "#262626", "baseline": "middle", "align": "center"},
      "encoding": {"x": {"field": "x", "type": "quantitative", "axis": null}, "y": {"field": "y", "type": "quantitative", "axis": null}, "text": {"field": "t"}}},
     {"data": {"values": [{"x": 16, "y": 251.5, "t": "D"}]}, "mark": {"type": "text", "fontSize": 18, "fontWeight": "bold", "color": "black", "baseline": "middle", "align": "center"},
      "encoding": {"x": {"field": "x", "type": "quantitative", "axis": null}, "y": {"field": "y", "type": "quantitative", "axis": null}, "text": {"field": "t"}}}
    ]
   },
   {
    "width": 373, "height": 183,
    "view": {"stroke": "#4d4d4d"},
    "layer": [
     {"data": {"name": "accuracy_large"}, "mark": {"type": "line", "strokeWidth": 2.6},
      "encoding": {
       "x": {"field": "size", "type": "quantitative", "scale": {"domain": [0, 104.4], "nice": false, "zero": false}, "axis": {"values": [10,20,40,60,80,100], "tickCount": 50, "format": "d", "title": "Network size", "tickSize": 0, "labelPadding": 3, "titlePadding": 29, "labelOverlap": false}},
       "y": {"field": "accuracy", "type": "quantitative", "scale": {"domain": [0.4835, 1.0245], "nice": false, "zero": false}, "axis": {"values": [0.5,0.6,0.7,0.8,0.9,1], "tickCount": 50, "format": ".1f", "title": "Accuracy", "titlePadding": 6, "labelOverlap": false}},
       "color": {"field": "density", "type": "nominal", "scale": {"domain": ["0.05","0.1","0.15","0.2"], "range": ["#c6dbef","#9ecae1","#6baed6","#3a86c2"]},
        "legend": {"title": "Density", "orient": "none", "legendX": 380, "legendY": 33, "titleAnchor": "middle", "titleFontSize": 13, "titleFontWeight": "normal", "titleColor": "#262626", "titlePadding": 2.8, "labelFontSize": 14, "labelColor": "#262626", "symbolType": "M-1.55,0H1.55M0.1,0A0.1,0.1 0 1,1 -0.1,0A0.1,0.1 0 1,1 0.1,0", "symbolSize": 454, "symbolStrokeWidth": 2.5, "symbolFillColor": "transparent", "symbolOpacity": 1, "symbolOffset": 5.85, "labelOffset": 16.85, "rowPadding": 0, "padding": 6, "fillColor": "white", "strokeColor": "#d9d9d9", "cornerRadius": 3}}
      }},
     {"data": {"name": "accuracy_large"}, "mark": {"type": "point", "filled": true, "size": 30, "opacity": 1, "stroke": "white", "strokeWidth": 0.5},
      "encoding": {"x": {"field": "size", "type": "quantitative"}, "y": {"field": "accuracy", "type": "quantitative"}, "color": {"field": "density", "type": "nominal", "legend": null}}},
     {"data": {"name": "e_icons"}, "mark": {"type": "point", "shape": "circle", "filled": true, "size": 128, "stroke": "black", "strokeWidth": 1, "opacity": 1},
      "encoding": {"x": {"field": "size", "type": "quantitative"}, "y": {"field": "accuracy", "type": "quantitative"}, "fill": {"field": "kind", "type": "nominal", "scale": {"domain": ["input","inter","n_input","n_inter"], "range": ["#ff0000","#e0e0e0","#ff0000","#a6a6a6"]}, "legend": null}}},
     {"data": {"name": "e_plus"}, "mark": {"type": "text", "fontSize": 11, "color": "#262626", "baseline": "middle", "align": "center"},
      "encoding": {"x": {"field": "size", "type": "quantitative"}, "y": {"field": "accuracy", "type": "quantitative"}, "text": {"field": "t"}}},
     {"data": {"name": "e_counts"}, "mark": {"type": "text", "fontSize": 13, "baseline": "middle", "align": "center"},
      "encoding": {"x": {"field": "size", "type": "quantitative"}, "y": {"field": "accuracy", "type": "quantitative"}, "text": {"field": "t"}, "fill": {"field": "kind", "type": "nominal", "legend": null}}},
     {"data": {"values": [{"size": -9.8, "accuracy": 1.054, "t": "E"}]}, "mark": {"type": "text", "fontSize": 18, "fontWeight": "bold", "color": "black", "baseline": "middle", "align": "center"},
      "encoding": {"x": {"field": "size", "type": "quantitative"}, "y": {"field": "accuracy", "type": "quantitative"}, "text": {"field": "t"}}}
    ]
   }
  ]
 }
]
}
